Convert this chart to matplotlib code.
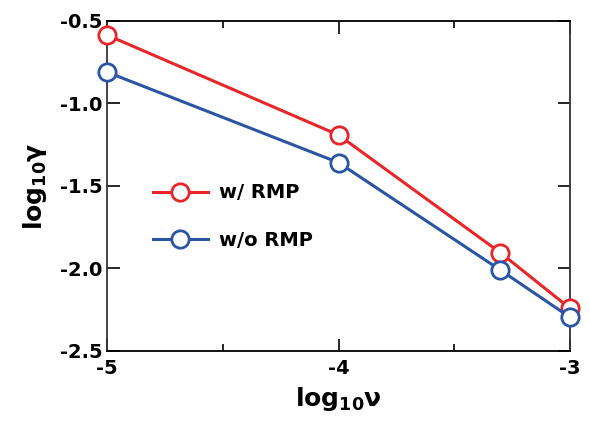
import numpy as np
import matplotlib
matplotlib.use('Agg')
import matplotlib.pyplot as plt

plt.rcParams['font.family'] = ['DejaVu Sans']
plt.rcParams['font.weight'] = 'bold'
plt.rcParams['mathtext.fontset'] = 'custom'
plt.rcParams['mathtext.rm'] = 'DejaVu Sans:bold'
plt.rcParams['mathtext.it'] = 'DejaVu Sans:bold'
plt.rcParams['mathtext.bf'] = 'DejaVu Sans:bold'
plt.rcParams['mathtext.default'] = 'rm'

# data
log_nu = [-5.0, -4.0, -3.301, -3.0]
gamma_rmp = [-0.588, -1.193, -1.905, -2.242]
gamma_no_rmp = [-0.812, -1.360, -2.010, -2.296]
labels = ['w/ RMP', 'w/o RMP']
colors = ['#e8262a', '#2a55a4']

fig = plt.figure(figsize=(5.9, 4.28), dpi=100)
ax = fig.add_axes([107/590, 1-351/428, 463/590, 330.5/428])

for ys, lab, c in zip([gamma_rmp, gamma_no_rmp], labels, colors):
    ax.plot(log_nu, ys, '-o', color=c, lw=2.2, ms=12.5, mew=2.0,
            mfc='white', mec=c, label=lab, clip_on=False, zorder=3)

ax.set_xlim(-5, -3)
ax.set_ylim(-2.5, -0.5)
ax.set_xticks([-5, -4, -3])
ax.set_xticks([-4.5, -3.5], minor=True)
ax.set_yticks(np.arange(-2.5, -0.49, 0.5))
ax.set_xticklabels(['-5', '-4', '-3'])
ax.set_yticklabels(['-2.5', '-2.0', '-1.5', '-1.0', '-0.5'])
ax.tick_params(which='both', direction='in', top=True, right=True,
               width=1.2, labelsize=14)
ax.tick_params(axis='x', pad=6)
ax.tick_params(axis='y', pad=3)
ax.tick_params(which='major', length=9)
ax.tick_params(which='minor', length=5)
for s in ax.spines.values():
    s.set_linewidth(1.3)
ax.spines['left'].set_color('#333333')
ax.spines['right'].set_color('#333333')

ax.set_xlabel('log$_{10}$ν', fontsize=18, fontweight='bold', labelpad=5)
ax.set_ylabel('log$_{10}$γ', fontsize=18, fontweight='bold', labelpad=8)

ax.legend(loc='center left', bbox_to_anchor=(0.062, 0.407), frameon=False,
          handlelength=2.8, handletextpad=0.6, labelspacing=1.45,
          prop={'weight': 'bold', 'size': 14})

plt.savefig('out.png', dpi=100)
